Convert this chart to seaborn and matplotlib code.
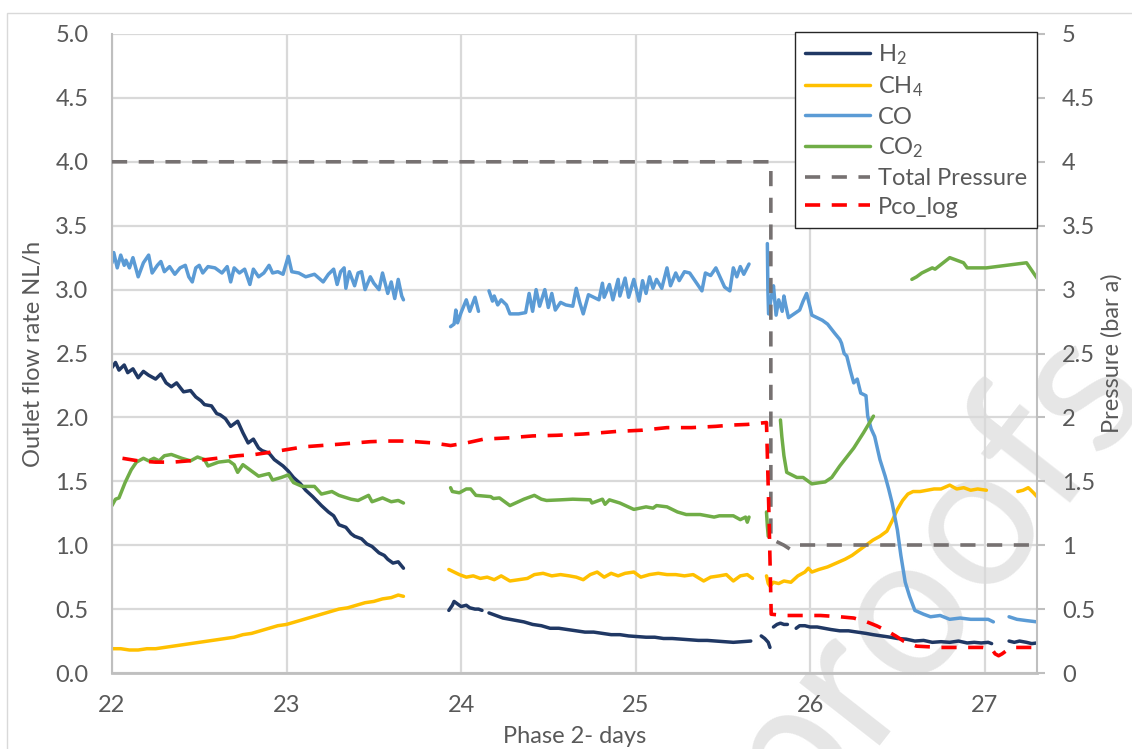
import numpy as np
import pandas as pd
import matplotlib
matplotlib.use("Agg")
import matplotlib.pyplot as plt
from matplotlib.lines import Line2D
from matplotlib.patches import Rectangle
from matplotlib.ticker import FuncFormatter, MultipleLocator
import seaborn as sns

h2_days = [22.00, 22.02, 22.04, 22.07, 22.09, 22.12, 22.15, 22.18, 22.21, 22.25, 22.28, 22.31,
           22.34, 22.37, 22.41, 22.45, 22.48, 22.51, 22.53, 22.57, 22.60, 22.62, 22.65, 22.68,
           22.72, 22.75, 22.78, 22.81, 22.84, 22.86, 22.90, 22.93, 22.95, 22.98, 23.01, 23.04,
           23.08, 23.11, 23.15, 23.20, 23.24, 23.27, 23.30, 23.34, 23.37, 23.39, 23.43, 23.46,
           23.49, 23.53, 23.56, 23.58, 23.61, 23.64, 23.67, None,
           23.93, 23.95, 23.96, 23.98, 24.00, 24.03, 24.05, 24.08, 24.10, 24.12, None,
           24.16, 24.20, 24.24, 24.28, 24.32, 24.36, 24.41, 24.46, 24.51, 24.56, 24.61, 24.66,
           24.71, 24.76, 24.81, 24.86, 24.91, 24.96, 25.01, 25.06, 25.11, 25.16, 25.21, 25.26,
           25.31, 25.36, 25.41, 25.46, 25.51, 25.56, 25.61, 25.66, None,
           25.72, 25.74, 25.76, 25.77, None,
           25.79, 25.81, 25.83, 25.85, 25.87, None,
           25.92, 25.94, 25.97, 26.00, 26.04, 26.08, 26.12, 26.17, 26.22, 26.27, 26.32, 26.36,
           26.41, 26.46, 26.50, 26.55, 26.60, 26.65, 26.70, 26.75, 26.80, 26.85, 26.90, 26.94,
           26.98, 27.02, 27.04, None,
           27.14, 27.17, 27.20, 27.24, 27.27, 27.30]
h2_flow = [2.39, 2.43, 2.37, 2.41, 2.35, 2.38, 2.31, 2.36, 2.33, 2.30, 2.34, 2.27,
           2.24, 2.27, 2.20, 2.21, 2.16, 2.13, 2.10, 2.09, 2.03, 2.02, 1.99, 1.93,
           1.97, 1.88, 1.80, 1.83, 1.76, 1.74, 1.72, 1.67, 1.65, 1.62, 1.58, 1.53,
           1.48, 1.43, 1.38, 1.31, 1.26, 1.23, 1.16, 1.14, 1.09, 1.07, 1.05, 1.01,
           0.99, 0.94, 0.92, 0.89, 0.86, 0.87, 0.82, None,
           0.49, 0.53, 0.56, 0.54, 0.52, 0.53, 0.51, 0.50, 0.50, 0.49, None,
           0.47, 0.45, 0.43, 0.42, 0.41, 0.40, 0.38, 0.37, 0.35, 0.35, 0.34, 0.33,
           0.32, 0.32, 0.31, 0.30, 0.30, 0.29, 0.285, 0.28, 0.28, 0.27, 0.27, 0.265,
           0.26, 0.255, 0.255, 0.25, 0.245, 0.24, 0.245, 0.25, None,
           0.29, 0.27, 0.24, 0.20, None,
           0.36, 0.38, 0.39, 0.38, 0.38, None,
           0.35, 0.37, 0.37, 0.36, 0.36, 0.35, 0.34, 0.33, 0.33, 0.32, 0.31, 0.30,
           0.29, 0.28, 0.27, 0.265, 0.25, 0.255, 0.24, 0.245, 0.24, 0.25, 0.235, 0.24,
           0.235, 0.24, 0.23, None,
           0.25, 0.24, 0.25, 0.24, 0.23, 0.235]

ch4_days = [22.00, 22.05, 22.10, 22.15, 22.20, 22.25, 22.30, 22.35, 22.40, 22.45, 22.50, 22.55,
            22.60, 22.65, 22.70, 22.75, 22.80, 22.85, 22.90, 22.95, 23.00, 23.05, 23.10, 23.15,
            23.20, 23.25, 23.30, 23.35, 23.40, 23.45, 23.50, 23.55, 23.60, 23.64, 23.67, None,
            23.93, 23.96, 23.99, 24.03, 24.07, 24.11, 24.15, 24.19, 24.23, 24.28, 24.33, 24.38,
            24.42, 24.47, 24.52, 24.57, 24.62, 24.66, 24.70, 24.74, 24.78, 24.82, 24.86, 24.90,
            24.94, 24.99, 25.03, 25.08, 25.13, 25.18, 25.23, 25.28, 25.33, 25.39, 25.43, 25.48,
            25.52, 25.56, 25.60, 25.64, 25.67, None,
            25.75, 25.76, 25.77, 25.79, 25.82, 25.85, 25.89, 25.93, 25.97, 25.99, 26.01, 26.05,
            26.10, 26.15, 26.20, 26.24, 26.28, 26.32, 26.36, 26.40, 26.44, 26.47, 26.50, 26.53,
            26.56, 26.59, 26.63, 26.67, 26.71, 26.75, 26.80, 26.84, 26.88, 26.92, 26.96, 27.01, None,
            27.19, 27.22, 27.25, 27.28, 27.30]
ch4_flow = [0.19, 0.19, 0.18, 0.18, 0.19, 0.19, 0.20, 0.21, 0.22, 0.23, 0.24, 0.25,
            0.26, 0.27, 0.28, 0.30, 0.31, 0.33, 0.35, 0.37, 0.38, 0.40, 0.42, 0.44,
            0.46, 0.48, 0.50, 0.51, 0.53, 0.55, 0.56, 0.58, 0.59, 0.61, 0.60, None,
            0.81, 0.79, 0.77, 0.75, 0.76, 0.74, 0.75, 0.73, 0.76, 0.72, 0.73, 0.74,
            0.77, 0.78, 0.76, 0.77, 0.76, 0.75, 0.73, 0.77, 0.79, 0.75, 0.78, 0.76,
            0.78, 0.79, 0.75, 0.77, 0.78, 0.77, 0.77, 0.76, 0.77, 0.72, 0.75, 0.76,
            0.77, 0.72, 0.76, 0.77, 0.74, None,
            0.76, 0.70, 0.68, 0.71, 0.70, 0.72, 0.71, 0.76, 0.79, 0.82, 0.79, 0.81,
            0.83, 0.86, 0.89, 0.92, 0.96, 1.00, 1.04, 1.07, 1.11, 1.19, 1.28, 1.35,
            1.40, 1.42, 1.42, 1.43, 1.44, 1.44, 1.47, 1.44, 1.45, 1.43, 1.44, 1.43, None,
            1.42, 1.43, 1.45, 1.41, 1.38]

co_days = [22.00, 22.01, 22.03, 22.05, 22.07, 22.08, 22.10, 22.12, 22.15, 22.18, 22.21, 22.23,
           22.26, 22.28, 22.30, 22.33, 22.36, 22.39, 22.42, 22.44, 22.46, 22.48, 22.50, 22.52,
           22.55, 22.59, 22.63, 22.66, 22.68, 22.70, 22.73, 22.76, 22.79, 22.81, 22.84, 22.87,
           22.90, 22.92, 22.95, 22.98, 23.01, 23.03, 23.07, 23.11, 23.16, 23.21, 23.24, 23.27,
           23.29, 23.31, 23.33, 23.34, 23.36, 23.39, 23.41, 23.43, 23.45, 23.48, 23.50, 23.53,
           23.55, 23.58, 23.60, 23.62, 23.64, 23.66, 23.67, None,
           23.94, 23.96, 23.97, 23.98, 24.00, 24.03, 24.05, 24.08, 24.10, None,
           24.16, 24.18, 24.19, 24.21, 24.23, 24.26, 24.28, 24.33, 24.37, 24.39, 24.41, 24.43,
           24.45, 24.48, 24.50, 24.52, 24.54, 24.57, 24.60, 24.64, 24.66, 24.68, 24.70, 24.73,
           24.76, 24.79, 24.81, 24.82, 24.85, 24.87, 24.90, 24.91, 24.94, 24.96, 24.99, 25.02,
           25.04, 25.06, 25.08, 25.10, 25.12, 25.15, 25.18, 25.20, 25.23, 25.25, 25.28, 25.31,
           25.35, 25.38, 25.40, 25.43, 25.46, 25.49, 25.51, 25.54, 25.56, 25.58, 25.60, 25.62,
           25.65, None,
           25.755, 25.758, 25.762, 25.78, 25.79, 25.805, 25.82, 25.84, 25.85, 25.86, 25.876, 25.94,
           25.96, 25.98, 26.00, 26.01, 26.04, 26.07, 26.10, 26.14, 26.17, 26.18, 26.195, 26.21,
           26.23, 26.25, 26.27, 26.29, 26.32, 26.33, 26.35, 26.37, 26.40, 26.43, 26.45, 26.47,
           26.50, 26.52, 26.545, 26.57, 26.60, 26.65, 26.69, 26.745, 26.80, 26.86, 26.92, 26.97,
           27.02, 27.05, None,
           27.14, 27.185, 27.24, 27.30]
co_flow = [3.21, 3.29, 3.17, 3.27, 3.19, 3.23, 3.17, 3.25, 3.10, 3.21, 3.27, 3.13,
           3.19, 3.22, 3.14, 3.18, 3.12, 3.17, 3.19, 3.10, 3.06, 3.17, 3.19, 3.13,
           3.18, 3.17, 3.13, 3.18, 3.06, 3.17, 3.13, 3.16, 3.04, 3.16, 3.10, 3.13,
           3.19, 3.13, 3.14, 3.12, 3.26, 3.14, 3.13, 3.10, 3.12, 3.06, 3.12, 3.16,
           3.04, 3.14, 3.17, 3.01, 3.14, 3.03, 3.13, 3.14, 3.00, 3.10, 3.05, 3.00,
           3.13, 2.97, 3.06, 2.93, 3.08, 2.95, 2.92, None,
           2.71, 2.73, 2.84, 2.74, 2.82, 2.92, 2.83, 2.94, 2.83, None,
           2.99, 2.91, 2.95, 2.88, 2.92, 2.88, 2.81, 2.81, 2.82, 2.97, 2.83, 3.00,
           2.87, 3.00, 2.86, 2.97, 2.84, 2.90, 2.88, 2.87, 3.01, 2.90, 2.81, 2.96,
           2.94, 2.92, 3.05, 2.94, 3.04, 2.92, 3.08, 2.95, 3.09, 2.94, 3.08, 2.91,
           3.07, 2.97, 3.10, 3.01, 3.08, 3.01, 3.17, 3.03, 3.13, 3.07, 3.14, 3.13,
           3.05, 2.99, 3.13, 3.11, 3.17, 3.08, 3.02, 2.99, 3.17, 3.10, 3.18, 3.12,
           3.20, None,
           3.36, 3.00, 2.81, 2.96, 3.03, 2.80, 2.92, 2.83, 2.95, 2.88, 2.78, 2.84,
           2.91, 2.97, 2.86, 2.80, 2.78, 2.76, 2.73, 2.66, 2.61, 2.58, 2.50, 2.48,
           2.37, 2.27, 2.30, 2.19, 2.17, 2.01, 1.91, 1.85, 1.67, 1.54, 1.44, 1.33,
           1.12, 0.92, 0.71, 0.60, 0.49, 0.46, 0.44, 0.45, 0.42, 0.43, 0.42, 0.42,
           0.42, 0.40, None,
           0.44, 0.42, 0.41, 0.40]

co2_days = [22.00, 22.02, 22.04, 22.075, 22.11, 22.14, 22.18, 22.21, 22.24, 22.27, 22.30, 22.34,
            22.40, 22.45, 22.49, 22.53, 22.55, 22.61, 22.67, 22.70, 22.72, 22.75, 22.80, 22.84,
            22.90, 22.92, 22.97, 23.01, 23.04, 23.09, 23.16, 23.20, 23.26, 23.30, 23.37, 23.41,
            23.47, 23.49, 23.55, 23.60, 23.64, 23.67, None,
            23.94, 23.95, 23.99, 24.03, 24.055, 24.085, 24.17, 24.185, 24.22, 24.28, 24.36, 24.42,
            24.46, 24.49, 24.57, 24.64, 24.74, 24.75, 24.81, 24.825, 24.85, 24.91, 24.99, 25.06,
            25.10, 25.12, 25.18, 25.24, 25.29, 25.37, 25.45, 25.48, 25.56, 25.60, 25.63, 25.64,
            25.65, None,
            25.75, 25.755, 25.76, None,
            25.83, 25.838, 25.85, 25.866, 25.924, 25.96, 26.01, 26.058, 26.086, 26.124, 26.17, 26.25,
            26.306, 26.363, None,
            26.583, 26.61, 26.64, 26.70, 26.716, 26.80, 26.879, 26.90, 27.01, 27.24, 27.30]
co2_flow = [1.31, 1.36, 1.37, 1.49, 1.59, 1.65, 1.68, 1.66, 1.68, 1.66, 1.70, 1.71,
            1.68, 1.66, 1.69, 1.67, 1.62, 1.65, 1.66, 1.63, 1.57, 1.63, 1.58, 1.54,
            1.56, 1.51, 1.53, 1.55, 1.49, 1.46, 1.46, 1.40, 1.42, 1.39, 1.36, 1.35,
            1.39, 1.34, 1.37, 1.34, 1.35, 1.33, None,
            1.45, 1.42, 1.41, 1.44, 1.44, 1.39, 1.38, 1.365, 1.37, 1.31, 1.36, 1.39,
            1.36, 1.35, 1.355, 1.36, 1.355, 1.33, 1.36, 1.32, 1.355, 1.33, 1.28, 1.30,
            1.29, 1.31, 1.30, 1.26, 1.24, 1.24, 1.22, 1.23, 1.23, 1.20, 1.22, 1.18,
            1.22, None,
            1.26, 1.15, 1.07, None,
            1.98, 1.85, 1.70, 1.57, 1.53, 1.53, 1.48, 1.49, 1.495, 1.53, 1.62, 1.76,
            1.88, 2.01, None,
            3.08, 3.10, 3.13, 3.17, 3.16, 3.25, 3.21, 3.17, 3.17, 3.21, 3.09]

pco_days = [22.06, 22.15, 22.25, 22.35, 22.44, 22.54, 22.63, 22.72, 22.82, 22.92, 23.01, 23.10,
            23.20, 23.30, 23.39, 23.48, 23.58, 23.66, 23.74, 23.84, 23.94, 24.03, 24.13, 24.27,
            24.41, 24.55, 24.70, 24.80, 24.89, 25.04, 25.18, 25.32, 25.46, 25.55, 25.64, 25.75,
            25.765, 25.777, 25.85, 25.97, 26.06, 26.17, 26.25, 26.325, 26.38, 26.44, 26.49, 26.535,
            26.61, 26.75, 26.87, 26.99, 27.04, 27.06, 27.08, 27.10, 27.12, 27.17, 27.24, 27.30]
pco_bar = [1.68, 1.66, 1.65, 1.65, 1.66, 1.67, 1.685, 1.70, 1.71, 1.73, 1.75, 1.77,
           1.78, 1.79, 1.80, 1.81, 1.815, 1.815, 1.81, 1.80, 1.78, 1.80, 1.83, 1.84,
           1.855, 1.86, 1.87, 1.88, 1.89, 1.90, 1.92, 1.92, 1.93, 1.94, 1.945, 1.96,
           1.20, 0.46, 0.45, 0.45, 0.45, 0.44, 0.43, 0.40, 0.37, 0.33, 0.29, 0.25,
           0.21, 0.20, 0.20, 0.20, 0.19, 0.15, 0.135, 0.15, 0.17, 0.20, 0.20, 0.20]

ptot_days = [22.00, 25.775, 25.775, 25.85, 25.895, None, 25.94, 27.30]
ptot_bar = [4.0, 4.0, 1.05, 1.0, 0.96, None, 1.0, 1.0]

flow_labels = ["H$_2$", "CH$_4$", "CO", "CO$_2$"]
press_labels = ["Total Pressure", "Pco_log"]
flow_colors = ["#203864", "#ffc000", "#5b9bd5", "#70ad47"]
press_colors = ["#767171", "#ff0000"]


def to_frame(name, xs, ys):
    rows = []
    seg = 0
    for x, y in zip(xs, ys):
        if x is None:
            seg += 1
            continue
        rows.append((name, seg, x, y))
    return pd.DataFrame(rows, columns=["series", "seg", "day", "value"])


flow = pd.concat([to_frame(flow_labels[0], h2_days, h2_flow),
                  to_frame(flow_labels[1], ch4_days, ch4_flow),
                  to_frame(flow_labels[2], co_days, co_flow),
                  to_frame(flow_labels[3], co2_days, co2_flow)], ignore_index=True)
press = pd.concat([to_frame(press_labels[0], ptot_days, ptot_bar),
                   to_frame(press_labels[1], pco_days, pco_bar)], ignore_index=True)

# Style ---------------------------------------------------------------------
sns.set_style("white")
plt.rcParams["font.family"] = ["Lato", "DejaVu Sans"]
plt.rcParams["mathtext.fontset"] = "custom"
plt.rcParams["mathtext.rm"] = "Lato"
plt.rcParams["mathtext.it"] = "Lato:italic"
plt.rcParams["mathtext.default"] = "rm"
txt = "#595959"
grid_c = "#d9d9d9"
axis_c = "#bfbfbf"
fs = 17

fig = plt.figure(figsize=(11.32, 7.49), dpi=100)
fig.patches.append(Rectangle((7 / 1132, -0.1), 1.2, 1 - 13 / 749 + 0.1, transform=fig.transFigure,
                             fill=False, edgecolor=grid_c, lw=1))
fig.text(0.82, 0.235, "proofs", rotation=52, fontsize=145, color="#e6e6e6",
         ha="center", va="center", zorder=-5)

ax = fig.add_axes([112 / 1132, 76 / 749, 925 / 1132, 639 / 749])
ax.patch.set_alpha(0)
ax2 = ax.twinx()
ax2.patch.set_alpha(0)

sns.lineplot(data=flow, x="day", y="value", hue="series", units="seg", estimator=None,
             sort=False, palette=dict(zip(flow_labels, flow_colors)), hue_order=flow_labels,
             lw=2.5, legend=False, ax=ax)
sns.lineplot(data=press, x="day", y="value", hue="series", style="series", units="seg",
             estimator=None, sort=False, palette=dict(zip(press_labels, press_colors)),
             dashes={press_labels[0]: (4.2, 3.2), press_labels[1]: (4.2, 3.2)},
             lw=2.6, legend=False, ax=ax2)

ax.set_xlim(22, 27.3)
ax.set_ylim(0, 5)
ax2.set_ylim(0, 5)
ax.xaxis.set_major_locator(MultipleLocator(1))
ax.yaxis.set_major_locator(MultipleLocator(0.5))
ax2.yaxis.set_major_locator(MultipleLocator(0.5))
ax.yaxis.set_major_formatter(FuncFormatter(lambda v, p: f"{v:.1f}"))
ax2.yaxis.set_major_formatter(FuncFormatter(lambda v, p: f"{v:g}"))

ax.grid(True, color=grid_c, lw=1.6)
ax.set_axisbelow(True)
ax.spines["top"].set_visible(False)
ax2.spines["top"].set_visible(False)
ax.spines["right"].set_visible(False)
ax2.spines["left"].set_visible(False)
ax2.spines["bottom"].set_visible(False)
ax.spines["left"].set_color(axis_c)
ax.spines["left"].set_linewidth(1.5)
ax.spines["bottom"].set_color(axis_c)
ax.spines["bottom"].set_linewidth(2)
ax2.spines["right"].set_color(axis_c)
ax2.spines["right"].set_linewidth(1.5)

ax.tick_params(axis="x", length=0, pad=16, labelsize=fs, labelcolor=txt)
ax.tick_params(axis="y", length=0, pad=17, labelsize=fs, labelcolor=txt)
ax2.tick_params(axis="y", length=6, width=1.5, color=axis_c, pad=12, labelsize=fs, labelcolor=txt)

ax.set_xlabel("Phase 2- days", fontsize=fs, color=txt, labelpad=7)
ax.set_ylabel("Outlet flow rate NL/h", fontsize=fs, color=txt, labelpad=8)
ax2.set_ylabel("Pressure (bar a)", fontsize=fs, color=txt, labelpad=4)

handles = [Line2D([], [], color=c, lw=2.5) for c in flow_colors]
handles += [Line2D([], [], color=c, lw=2.6, dashes=(4.2, 3.2)) for c in press_colors]
leg = ax2.legend(handles, flow_labels + press_labels, loc="upper right",
                 bbox_to_anchor=(1037 / 1132, 1 - 32 / 749), bbox_transform=fig.transFigure,
                 borderaxespad=0, frameon=True, fancybox=False, framealpha=1,
                 edgecolor="#262626", fontsize=fs, handlelength=2.75, handletextpad=0.35,
                 labelspacing=0.33, borderpad=0.42)
leg.get_frame().set_linewidth(1.0)
for t in leg.get_texts():
    t.set_color(txt)

fig.savefig("out.png", dpi=100)
